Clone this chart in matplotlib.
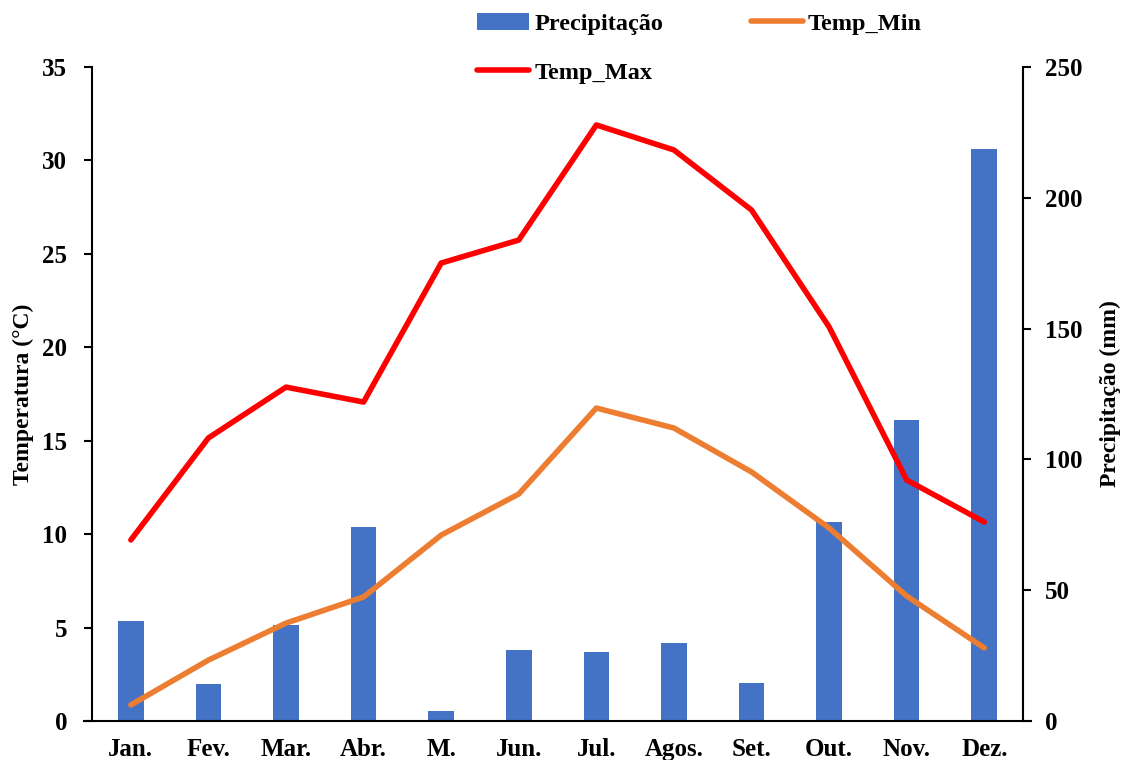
import matplotlib.pyplot as plt
import numpy as np

plt.rcParams["font.family"] = ["Liberation Serif", "DejaVu Serif"]
plt.rcParams["font.weight"] = "bold"

months = ["Jan.", "Fev.", "Mar.", "Abr.", "M.", "Jun.", "Jul.", "Agos.", "Set.", "Out.", "Nov.", "Dez."]
precip = [38.2, 14.1, 36.7, 74.2, 3.8, 27.1, 26.4, 29.8, 14.5, 76.1, 115.1, 218.7]
temp_min = [0.86, 3.26, 5.24, 6.64, 9.95, 12.15, 16.75, 15.68, 13.33, 10.33, 6.69, 3.91]
temp_max = [9.69, 15.15, 17.87, 17.07, 24.51, 25.74, 31.9, 30.56, 27.35, 21.09, 12.9, 10.65]

x = np.arange(len(months))
FS = 18

fig = plt.figure(figsize=(11.24, 7.6), dpi=100)
ax = fig.add_axes([0.0819, 0.0513, 0.8283, 0.8605])
ax2 = ax.twinx()

# bars on the right axis, drawn behind the lines
ax2.bar(x, precip, width=0.33, color="#4472C4", zorder=1, label="Precipitação")
ax2.set_ylim(0, 250)
ax2.set_yticks(range(0, 251, 50))

ax.set_zorder(ax2.get_zorder() + 1)
ax.patch.set_visible(False)
ax.plot(x, temp_min, color="#ED7D31", lw=4, solid_capstyle="round", label="Temp_Min")
ax.plot(x, temp_max, color="#FF0000", lw=4, solid_capstyle="round", label="Temp_Max")
ax.set_ylim(0, 35)
ax.set_yticks(range(0, 36, 5))
ax.set_xlim(-0.5, 11.5)
ax.set_xticks(x)
ax.set_xticklabels(months)

for a in (ax, ax2):
    a.spines["top"].set_visible(False)
    for s in a.spines.values():
        s.set_linewidth(1.5)
ax.spines["right"].set_visible(False)
ax2.spines["left"].set_visible(False)
ax2.spines["bottom"].set_visible(False)
ax.spines["bottom"].set_bounds(-0.6, 11.6)

ax.tick_params(axis="x", length=0, pad=12, labelsize=FS)
ax.tick_params(axis="y", direction="out", length=6, width=1.5, labelsize=FS, pad=12)
ax2.tick_params(axis="y", direction="out", length=6, width=1.5, labelsize=FS, pad=10)

ax.set_ylabel("Temperatura (°C)", fontsize=17, fontweight="bold", labelpad=6)
ax2.set_ylabel("Precipitação (mm)", fontsize=17, fontweight="bold", labelpad=12)

h1, l1 = ax2.get_legend_handles_labels()
h2, l2 = ax.get_legend_handles_labels()
# column-wise fill: Precip / Temp_Max in col 1, Temp_Min in col 2
handles = [h1[0], h2[1], h2[0]]
labels = [l1[0], l2[1], l2[0]]
fig.legend(handles, labels, ncol=2, loc="upper left", bbox_to_anchor=(0.405, 1.012),
           frameon=False, fontsize=17.5, handlelength=2.15, handletextpad=0.2,
           columnspacing=3.6, labelspacing=1.1)

fig.savefig("out.png", dpi=100)
